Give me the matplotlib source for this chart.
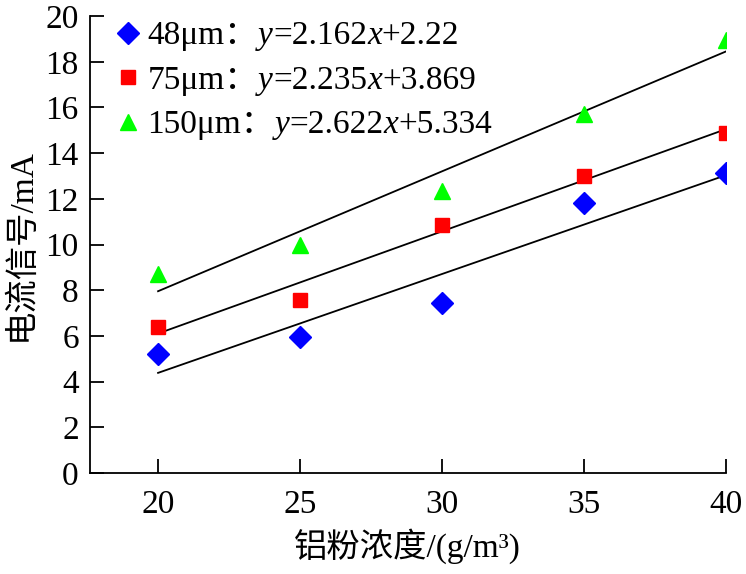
import numpy as np
import matplotlib
matplotlib.use("Agg")
import matplotlib.pyplot as plt

plt.rcParams['font.family'] = ['Liberation Serif', 'Noto Sans CJK SC']

conc = [20, 25, 30, 35, 40]
idx = [1, 2, 3, 4, 5]
sizes = ['48μm', '75μm', '150μm']
current = [
    [5.2, 5.95, 7.45, 11.8, 13.15],
    [6.4, 7.55, 10.85, 13.0, 14.9],
    [8.7, 10.0, 12.35, 15.7, 18.95],
]
slopes = [2.162, 2.235, 2.622]
intercepts = [2.22, 3.869, 5.334]
slope_txt = ['2.162', '2.235', '2.622']
icpt_txt = ['2.22', '3.869', '5.334']
colors = ['#0000ff', '#ff0000', '#00ff00']
markers = ['D', 's', '^']
msizes = [11, 10, 12]

fig = plt.figure(figsize=(7.46, 5.74), dpi=100)
ax = fig.add_axes([0.1206, 0.176, 0.852, 0.796])

for i in range(3):
    fit = [slopes[i] * k + intercepts[i] for k in idx]
    ax.plot(conc, fit, color='black', lw=1.3)
for i in range(3):
    ax.plot(conc, current[i], linestyle='none', marker=markers[i], ms=msizes[i],
            color=colors[i], label=sizes[i] + '：')

ax.set_xlim(17.6, 40)
ax.set_ylim(0, 20)
ax.set_xticks([20, 25, 30, 35, 40])
ax.set_yticks(np.arange(0, 21, 2))
for s in ['top', 'right']:
    ax.spines[s].set_visible(False)
for s in ['left', 'bottom']:
    ax.spines[s].set_linewidth(1.3)
ax.tick_params(direction='in', length=10, width=1.3, labelsize=24)
ax.tick_params(axis='x', pad=12)
ax.tick_params(axis='y', pad=8)
ax.set_xlabel('铝粉浓度/(g/m³)', fontsize=24, labelpad=6)
ax.set_ylabel('电流信号/mA', fontsize=24, labelpad=6)

leg = ax.legend(loc='upper left', frameon=False, fontsize=24, handlelength=0.8,
                handletextpad=0.2, labelspacing=0.42, borderaxespad=0.1,
                bbox_to_anchor=(0.012, 1.026))

# equation pieces appended after each legend label, y and x in italics
for i, t in enumerate(leg.get_texts()):
    pieces = [('y', 'italic'), ('=' + slope_txt[i], 'normal'), ('x', 'italic'),
              ('+' + icpt_txt[i], 'normal')]
    prev = t
    for txt, st in pieces:
        prev = ax.annotate(txt, xy=(1, 0), xycoords=prev, va='bottom', ha='left',
                           fontsize=24, style=st, family='Liberation Serif',
                           zorder=10)

fig.savefig('out.png', dpi=100)
